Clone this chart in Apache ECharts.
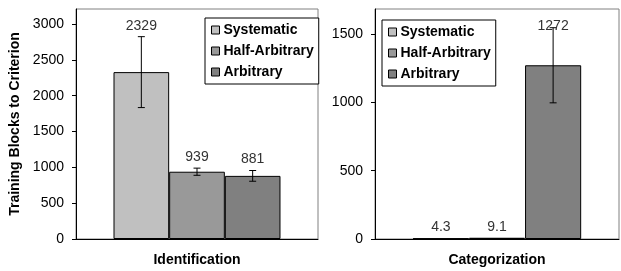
<!DOCTYPE html>
<html>
<head>
<meta charset="utf-8">
<script src="https://cdn.jsdelivr.net/npm/echarts@6/dist/echarts.min.js"></script>
<style>
  html, body { margin: 0; padding: 0; background: #fff; }
  #chart { width: 621px; height: 271px; }
</style>
</head>
<body>
<div id="chart"></div>
<script>
// groups = panels, one category each
const panels = ['Identification', 'Categorization']
const conditions = ['Systematic', 'Half-Arbitrary', 'Arbitrary']
const colors = ['#c0c0c0', '#999999', '#808080']

// mean training blocks per condition, one array per panel
const identMeans = [2329, 939, 881]
const identErrors = [495, 50, 75]
const identLabels = ['2329', '939', '881']

const catMeans = [4.3, 9.1, 1272]
const catErrors = [0, 0, 275]
const catLabels = ['4.3', '9.1', '1272']

const yMax = [3210, 1684]
const yInterval = 500

const font = 'Liberation Sans, Arial, sans-serif'
const gapRatio = 0.31

const chart = echarts.init(document.getElementById('chart'), null, { renderer: 'canvas' })

function errorSeries(gridIdx, means, errs, labels) {
  return {
    type: 'custom',
    xAxisIndex: gridIdx,
    yAxisIndex: gridIdx,
    silent: true,
    z: 10,
    data: means.map((m, i) => [0, m, errs[i], i]),
    renderItem: (params, api) => {
      const mean = api.value(1)
      const err = api.value(2)
      const i = api.value(3)
      const band = api.size([1, 0])[0]
      const barW = band * (1 - gapRatio) / 3
      const center = api.coord([0, 0])[0]
      const x = center + (i - 1) * barW
      const yTop = api.coord([0, mean + err])[1]
      const yBot = api.coord([0, mean - err])[1]
      const gridTop = params.coordSys.y
      const children = []
      if (err > 0) {
        const style = { stroke: '#000', lineWidth: 1 }
        children.push(
          { type: 'line', shape: { x1: x, y1: yTop, x2: x, y2: yBot }, style },
          { type: 'line', shape: { x1: x - 3.5, y1: yTop, x2: x + 3.5, y2: yTop }, style },
          { type: 'line', shape: { x1: x - 3.5, y1: yBot, x2: x + 3.5, y2: yBot }, style }
        )
      }
      const ly = Math.max(yTop - 11, gridTop + 17)
      children.push({
        type: 'text',
        style: {
          x: x, y: ly, text: labels[i],
          align: 'center', verticalAlign: 'middle',
          fill: '#333', font: '14px ' + font
        }
      })
      return { type: 'group', children }
    }
  }
}

function barSeries(gridIdx, means) {
  return conditions.map((name, i) => ({
    name,
    type: 'bar',
    xAxisIndex: gridIdx,
    yAxisIndex: gridIdx,
    data: [means[i]],
    barGap: 0,
    barCategoryGap: (gapRatio * 100) + '%',
    itemStyle: { color: colors[i], borderColor: '#000', borderWidth: 1 },
    emphasis: { disabled: true }
  }))
}

function legend(left, top) {
  return {
    orient: 'vertical',
    left, top,
    data: conditions,
    icon: 'rect',
    itemWidth: 8,
    itemHeight: 8,
    itemGap: 7,
    padding: [5, 5, 5, 6],
    borderColor: '#000',
    borderWidth: 1,
    backgroundColor: '#fff',
    itemStyle: { borderColor: '#000', borderWidth: 1 },
    textStyle: { fontFamily: font, fontSize: 14, fontWeight: 'bold', color: '#000', padding: [0, 0, 0, -1] },
    selectedMode: false
  }
}

function yAxis(gridIdx, name) {
  return {
    type: 'value',
    gridIndex: gridIdx,
    min: 0,
    max: yMax[gridIdx],
    interval: yInterval,
    name,
    nameLocation: 'middle',
    nameGap: 54,
    nameTextStyle: { fontFamily: font, fontSize: 14, fontWeight: 'bold', color: '#000' },
    axisLine: { show: true, lineStyle: { color: '#000', width: 1 } },
    axisTick: { show: true, length: 4, lineStyle: { color: '#000' } },
    axisLabel: {
      showMaxLabel: false, margin: 12, fontFamily: font, fontSize: 14, color: '#000',
      formatter: v => String(v)
    },
    splitLine: { show: false }
  }
}

function xAxis(gridIdx) {
  return {
    type: 'category',
    gridIndex: gridIdx,
    data: [panels[gridIdx]],
    axisLine: { lineStyle: { color: '#000', width: 1 } },
    axisTick: { show: false },
    axisLabel: { margin: 14, fontFamily: font, fontSize: 14, fontWeight: 'bold', color: '#000' }
  }
}

const option = {
  animation: false,
  grid: [
    { left: 76, top: 9, width: 242, height: 230, show: true, borderColor: '#808080', borderWidth: 1 },
    { left: 375, top: 9, width: 244, height: 230, show: true, borderColor: '#808080', borderWidth: 1 }
  ],
  legend: [legend(205, 18), legend(382, 20)],
  xAxis: [xAxis(0), xAxis(1)],
  yAxis: [yAxis(0, 'Training Blocks to Criterion'), yAxis(1, '')],
  series: [
    ...barSeries(0, identMeans),
    ...barSeries(1, catMeans),
    errorSeries(0, identMeans, identErrors, identLabels),
    errorSeries(1, catMeans, catErrors, catLabels)
  ]
}

chart.setOption(option)
</script>
</body>
</html>
